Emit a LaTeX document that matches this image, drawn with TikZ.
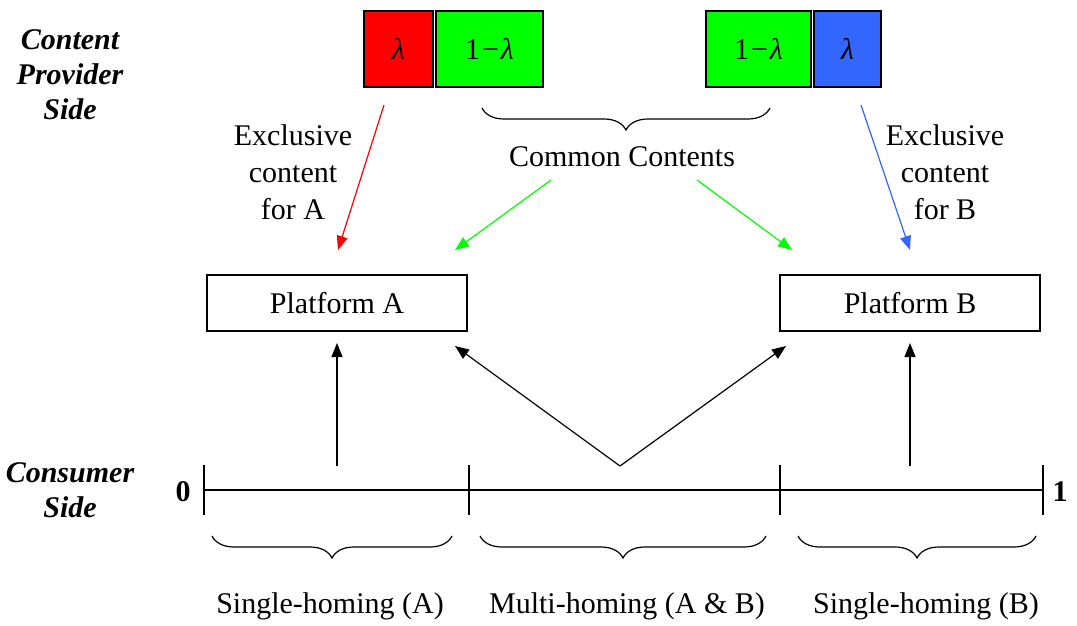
\documentclass[tikz,border=0pt]{standalone}
\usepackage{fontspec}
\setmainfont{Liberation Serif}
\usetikzlibrary{positioning,arrows.meta,decorations.pathreplacing}
\definecolor{shareRed}{RGB}{255,0,0}
\definecolor{shareGreen}{RGB}{0,255,0}
\definecolor{shareBlue}{RGB}{51,102,255}
\begin{document}
\begin{tikzpicture}[x=0.5pt, y=-0.5pt,
    every node/.style = {font=\fontsize{15}{18}\selectfont},
    share/.style = {shape=rectangle, draw, line width=1pt, inner sep=0pt,
      minimum height=38pt},
    platform/.style = {shape=rectangle, draw, line width=0.6pt,
      minimum width=130pt, minimum height=28pt},
    side/.style = {align=center,
      font=\fontsize{15}{17.5}\selectfont\bfseries\itshape},
    tag/.style = {align=center, font=\fontsize{15}{18.5}\selectfont},
    flow/.style = {line width=0.6pt, -{Triangle[length=7pt,width=5.5pt]}},
    curly/.style = {decorate, line width=0.6pt,
      decoration={brace, mirror, amplitude=11pt}}]
  \useasboundingbox (0,0) rectangle (1077,626);
  % content provider side
  \node[side] (cps) at (70,75) {Content\\ Provider\\ Side};
  \node[share, fill=shareRed, minimum width=34.5pt, anchor=north west]
    (lamA) at (363,10) {\textit{λ}};
  \node[share, fill=shareGreen, minimum width=53.5pt, right=0.5pt of lamA]
    (comA) {1\kern1pt−\kern1pt\textit{λ}};
  \node[share, fill=shareGreen, minimum width=52.5pt, anchor=north west]
    (comB) at (705,10) {1\kern1pt−\kern1pt\textit{λ}};
  \node[share, fill=shareBlue, minimum width=33.5pt, right=0.5pt of comB]
    (lamB) {\textit{λ}};
  \coordinate (braceL) at (482,108);
  \coordinate (braceR) at (770,108);
  \draw[curly] (braceL) -- (braceR);
  \node (common) at (622,157) {Common Contents};
  \node[tag] (exA) at (293,172) {Exclusive\\ content\\ for A};
  \node[tag] (exB) at (945,172) {Exclusive\\ content\\ for B};
  % platforms
  \node[platform] (platA) at (337,303) {Platform A};
  \node[platform] (platB) at (910,303) {Platform B};
  \coordinate (redS) at (384,105);
  \coordinate (redE) at (338,250);
  \coordinate (blueS) at (861,105);
  \coordinate (blueE) at (910,250);
  \coordinate (grnLS) at (551,180);
  \coordinate (grnLE) at (455,250);
  \coordinate (grnRS) at (697,180);
  \coordinate (grnRE) at (792,250);
  \draw[flow, shareRed] (redS) -- (redE);
  \draw[flow, shareBlue] (blueS) -- (blueE);
  \draw[flow, shareGreen] (grnLS) -- (grnLE);
  \draw[flow, shareGreen] (grnRS) -- (grnRE);
  % consumer side
  \node[side] (cs) at (70,490) {Consumer\\ Side};
  \coordinate (zero) at (204,490);
  \coordinate (one) at (1043,490);
  \coordinate (cutA) at (469,490);
  \coordinate (cutB) at (780,490);
  \draw[line width=1pt] (zero) -- (one);
  \foreach \t in {zero, cutA, cutB, one}
    \draw[line width=0.6pt] (\t) ++(0,-25) -- ++(0,50);
  \node[font=\fontsize{15}{18}\selectfont\bfseries] (lo) at (183,492) {0};
  \node[font=\fontsize{15}{18}\selectfont\bfseries] (hi) at (1060,492) {1};
  \coordinate (singA) at (337,466);
  \coordinate (singB) at (910,466);
  \coordinate (multi) at (620,466);
  \draw[flow] (singA) -- (platA.south |- 0,343);
  \draw[flow] (singB) -- (platB.south |- 0,343);
  \draw[flow] (multi) -- (455,346);
  \draw[flow] (multi) -- (786,346);
  % braces under the axis
  \draw[curly] (212,536) -- (452,536);
  \draw[curly] (480,536) -- (766,536);
  \draw[curly] (798,536) -- (1036,536);
  \node (homeA) at (330,606) {Single-homing (A)};
  \node (homeAB) at (627,606) {Multi-homing (A \& B)};
  \node (homeB) at (926,606) {Single-homing (B)};
\end{tikzpicture}
\end{document}
